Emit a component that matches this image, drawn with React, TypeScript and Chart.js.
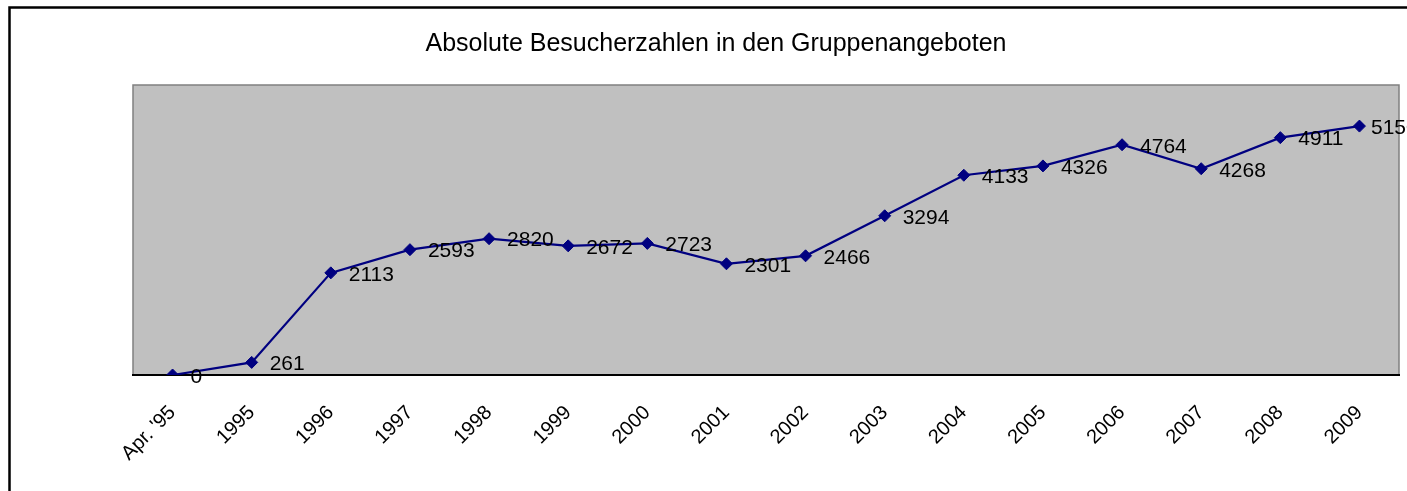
import React, { useEffect, useRef } from "react";
import { Chart, registerables } from "chart.js";

Chart.register(...registerables);

const categories = ["Apr. '95", "1995", "1996", "1997", "1998", "1999", "2000", "2001", "2002", "2003", "2004", "2005", "2006", "2007", "2008", "2009"];
const visitors = [0, 261, 2113, 2593, 2820, 2672, 2723, 2301, 2466, 3294, 4133, 4326, 4764, 4268, 4911, 5150];
const titleText = "Absolute Besucherzahlen in den Gruppenangeboten";

const FONT = "'Liberation Sans', Arial, sans-serif";

const framePlugin = {
  id: "frame",
  beforeDraw(chart: any) {
    const { ctx, chartArea } = chart;
    ctx.save();
    ctx.fillStyle = "#ffffff";
    ctx.fillRect(0, 0, chart.width, chart.height);
    ctx.strokeStyle = "#000000";
    ctx.lineWidth = 2.5;
    ctx.beginPath();
    ctx.moveTo(9.5, chart.height);
    ctx.lineTo(9.5, 7.5);
    ctx.lineTo(chart.width, 7.5);
    ctx.stroke();
    ctx.fillStyle = "#C0C0C0";
    ctx.fillRect(chartArea.left, chartArea.top, chartArea.right - chartArea.left, chartArea.bottom - chartArea.top);
    ctx.strokeStyle = "#808080";
    ctx.lineWidth = 1.5;
    ctx.strokeRect(chartArea.left, chartArea.top, chartArea.right - chartArea.left, chartArea.bottom - chartArea.top);
    ctx.restore();
  },
};

const labelPlugin = {
  id: "valueLabels",
  afterDatasetsDraw(chart: any) {
    const { ctx } = chart;
    const meta = chart.getDatasetMeta(0);
    ctx.save();
    ctx.font = `21px ${FONT}`;
    ctx.fillStyle = "#000000";
    ctx.textBaseline = "middle";
    ctx.textAlign = "left";
    meta.data.forEach((pt: any, i: number) => {
      const x = Math.min(pt.x + 18, chart.width - 36);
      ctx.fillText(String(visitors[i]), x, pt.y + 2);
    });
    ctx.restore();
  },
};

export default function App() {
  const ref = useRef<HTMLCanvasElement>(null);
  useEffect(() => {
    if (!ref.current) return;
    const chart = new Chart(ref.current, {
      type: "line",
      data: {
        labels: categories,
        datasets: [
          {
            data: visitors,
            borderColor: "#000080",
            backgroundColor: "#000080",
            borderWidth: 2.2,
            pointStyle: "rectRot",
            pointRadius: 6,
            pointBorderWidth: 1,
            pointBorderColor: "#000080",
            tension: 0,
          },
        ],
      },
      options: {
        animation: false,
        responsive: false,
        layout: { padding: { left: 33, right: 8, top: 0, bottom: 0 } },
        plugins: {
          legend: { display: false },
          tooltip: { enabled: false },
          title: {
            display: true,
            text: titleText,
            color: "#000000",
            font: { family: FONT, size: 25, weight: "normal" },
            padding: { top: 29, bottom: 26 },
          },
        },
        scales: {
          x: {
            offset: true,
            grid: { display: false, drawTicks: false },
            border: { display: true, color: "#000000", width: 2 },
            ticks: {
              autoSkip: false,
              minRotation: 45,
              maxRotation: 45,
              padding: 26,
              color: "#000000",
              font: { family: FONT, size: 20 },
            },
            afterFit: (scale: any) => {
              scale.height = 116;
            },
          },
          y: {
            min: 0,
            max: 6000,
            grid: { display: false, drawTicks: false },
            border: { display: false },
            ticks: { display: false },
            afterFit: (scale: any) => {
              scale.width = 100;
            },
          },
        },
      },
      plugins: [framePlugin, labelPlugin],
    });
    return () => chart.destroy();
  }, []);
  return (
    <div style={{ position: "fixed", left: 0, top: 0, width: 1407, height: 491 }}>
      <canvas ref={ref} width={1407} height={491} />
    </div>
  );
}
